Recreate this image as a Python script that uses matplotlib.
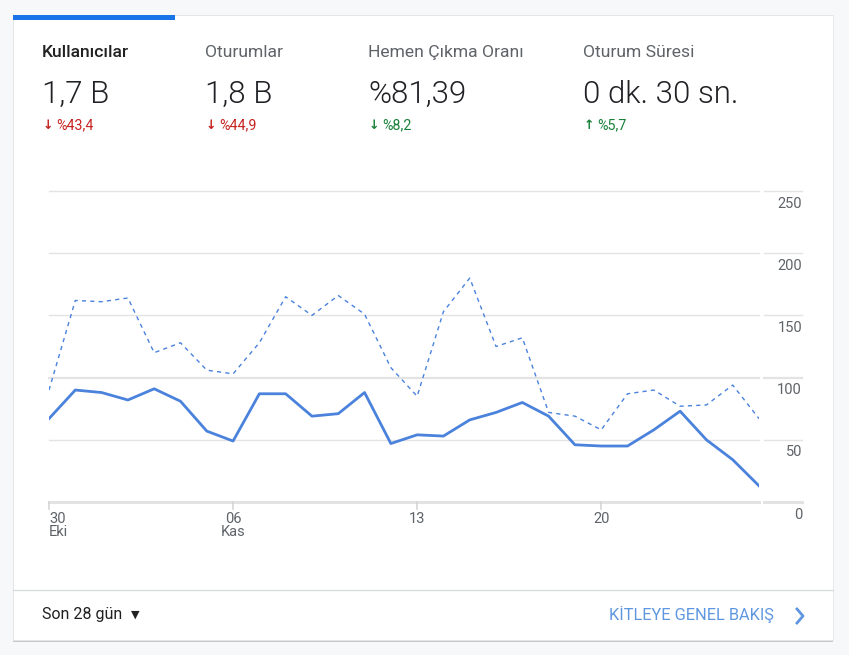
import matplotlib
matplotlib.use("Agg")
import matplotlib.pyplot as plt
from matplotlib.patches import Rectangle
from matplotlib.lines import Line2D
import matplotlib.transforms as mtransforms

plt.rcParams['font.family'] = ['Roboto', 'DejaVu Sans']

# data
gunler = list(range(28))  # 30 Eki .. 26 Kas
kullanicilar = [67, 90, 88, 82, 91, 81, 57, 49, 87, 87, 69, 71, 88, 47,
                54, 53, 66, 72, 80, 69, 46, 45, 45, 58, 73, 50, 34, 13]
onceki_donem = [90, 162, 161, 164, 120, 128, 106, 103, 128, 165, 150, 166, 151, 108,
                85, 153, 180, 125, 132, 72, 69, 58, 87, 90, 77, 78, 94, 67]
x_tik_yer = [0, 7, 14, 21]
x_tik_etiket = ["30\nEki", "06\nKas", "13", "20"]
y_tikler = [0, 50, 100, 150, 200, 250]

basliklar = ["Kullanıcılar", "Oturumlar", "Hemen Çıkma Oranı", "Oturum Süresi"]
degerler = ["1,7 B", "1,8 B", "%81,39", "0 dk. 30 sn."]
oklar = ["↓", "↓", "↓", "↑"]
degisimler = ["%43,4", "%44,9", "%8,2", "%5,7"]
degisim_renk = ["#c5221f", "#c5221f", "#188038", "#188038"]

W, H = 849, 655
fig = plt.figure(figsize=(W / 100, H / 100), dpi=100)
fig.patch.set_facecolor("#f7f8fa")


def fx(x):
    return x / W


def fy(y):
    return 1 - y / H


# kart + gölge
fig.patches.append(Rectangle((fx(13), fy(642)), fx(820), 627 / H, transform=fig.transFigure,
                             facecolor="#c8c8c8", edgecolor="none", zorder=-3))
fig.patches.append(Rectangle((fx(13), fy(640)), fx(820), 625 / H, transform=fig.transFigure,
                             facecolor="white", edgecolor="#e6e6e6", lw=0.6, zorder=-2))
fig.patches.append(Rectangle((fx(13), fy(20)), fx(162), 5 / H, transform=fig.transFigure,
                             facecolor="#1a73e8", edgecolor="none", zorder=-1))
fig.lines.append(Line2D([fx(13), fx(833)], [fy(590), fy(590)], transform=fig.transFigure,
                        color="#dadce0", lw=1, zorder=-1))

# üst özet
xs = [42, 205, 368, 583]
for i in range(4):
    fig.text(fx(xs[i]), fy(57), basliklar[i], fontsize=12.6,
             color="#212121" if i == 0 else "#5f6368",
             fontweight="medium" if i == 0 else "normal", va="baseline")
    fig.text(fx(xs[i]), fy(103), degerler[i], fontsize=22.5, color="#202124",
             fontweight=300, va="baseline")
    fig.text(fx(xs[i] + 1), fy(129), oklar[i], fontsize=9, color=degisim_renk[i],
             va="baseline", family="DejaVu Sans", fontweight="bold")
    fig.text(fx(xs[i] + 14), fy(129), degisimler[i], fontsize=10.3, color=degisim_renk[i],
             va="baseline")

# alt kısım
fig.text(fx(42), fy(619), "Son 28 gün", fontsize=11.5, color="#212121", va="baseline")
fig.text(fx(131), fy(618), "▼", fontsize=8, color="#212121", va="baseline",
         family="DejaVu Sans")
fig.text(fx(774), fy(620), "KİTLEYE GENEL BAKIŞ", fontsize=11.8, color="#5e97e0",
         va="baseline", ha="right")
fig.lines.append(Line2D([fx(797), fx(803), fx(797)], [fy(609), fy(616), fy(623)],
                        transform=fig.transFigure, color="#5e97e0", lw=2))

# grafik
ax = fig.add_axes([fx(49), fy(502), (759 - 49) / W, (502 - 191) / H])
ax.set_facecolor("none")
ax.set_xlim(0, 27)
ax.set_ylim(0, 250)
for s in ax.spines.values():
    s.set_visible(False)
ax.set_xticks([])
ax.set_yticks([])

trans = mtransforms.blended_transform_factory(ax.transAxes, ax.transData)
for v in y_tikler:
    lw = 2.2 if v == 0 else (1.6 if v == 100 else 1.0)
    ax.axhline(v, color="#e3e3e3", lw=lw, zorder=0, clip_on=False)
    ax.plot([(764 - 49) / 710, (802 - 49) / 710], [v, v], transform=trans,
            color="#e3e3e3", lw=lw, clip_on=False)
    ax.annotate(str(v), xy=((802 - 49) / 710, v), xycoords=trans, xytext=(0, -4),
                textcoords="offset points", ha="right", va="top", fontsize=10.5,
                color="#5f6368")

ax.plot(gunler, onceki_donem, color="#4a82dc", lw=1.0, ls=(0, (3, 3)), zorder=3)
ax.plot(gunler, kullanicilar, color="#4a82dc", lw=2.0, zorder=4)

trans_x = mtransforms.blended_transform_factory(ax.transData, ax.transAxes)
for i, (p, lab) in enumerate(zip(x_tik_yer, x_tik_etiket)):
    ax.plot([p, p], [0, -0.022], transform=trans_x, color="#d6d6d6", lw=1.2, clip_on=False)
    ax.annotate(lab, xy=(p, 0), xycoords=trans_x, xytext=(0, -7), textcoords="offset points",
                ha="left" if i == 0 else "center", va="top", fontsize=10.5, color="#5f6368",
                linespacing=0.95)

fig.savefig("out.png", dpi=100, facecolor=fig.get_facecolor())
